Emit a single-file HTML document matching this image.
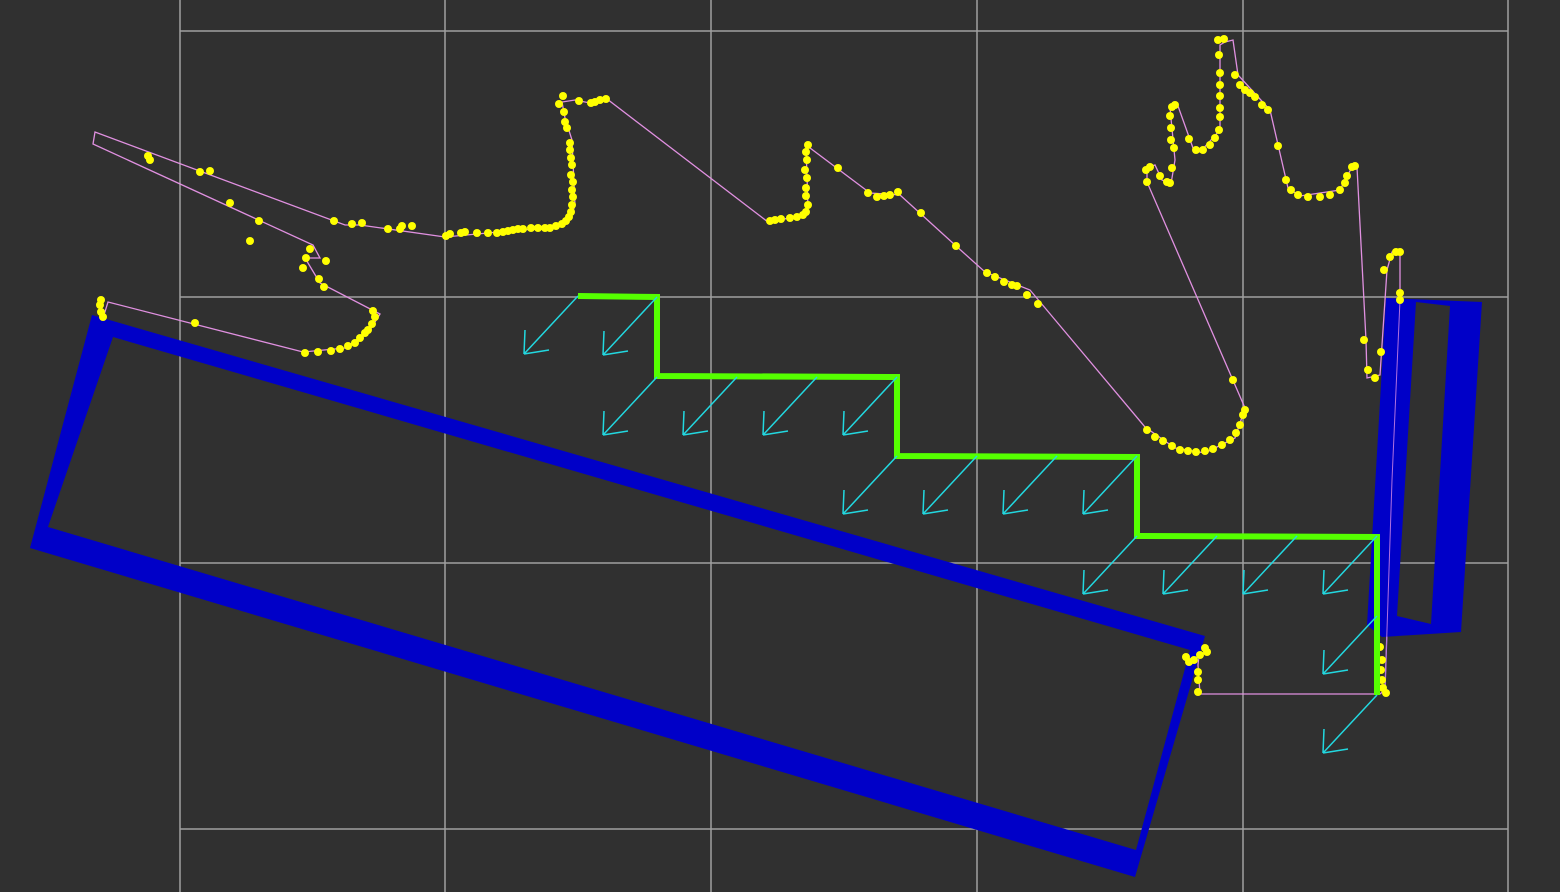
<!DOCTYPE html>
<html><head><meta charset="utf-8"><style>
html,body{margin:0;padding:0;background:#303030;overflow:hidden}
svg{display:block}
</style></head><body>
<svg id="s" width="1560" height="892" viewBox="0 0 1560 892" xmlns="http://www.w3.org/2000/svg">
<rect width="1560" height="892" fill="#303030"/>
<g id="grid"></g>
<polyline id="path" fill="none" stroke="#e090e0" stroke-width="1.3"/>
<path fill="#0000c8" fill-rule="evenodd" d="M92,315 L1205,636 L1135,877 L30,548 Z M113,337 L1190,650 L1136,850 L48,527 Z"/>
<path fill="#0000c8" fill-rule="evenodd" d="M1386,298 L1482,302 L1461,632 L1382,637 L1367,625 Z M1416,302 L1450,306 L1431,624 L1397,616 Z"/>
<polyline id="path2" fill="none" stroke="#b070e0" stroke-width="1" points="1400,300 1392,480 1385,690"/>
<g id="dots"></g>
<polyline id="stairs" fill="none" stroke="#55ff00" stroke-width="6" stroke-linejoin="miter"/>
<g id="arrows"></g>
</svg>
<script>
const gridX=[180,445,711,977,1243,1508];
const gridY=[31,297,563,829];
const pathPts=[[1380,694],[1200,694],[1198,665],[1200,645],[101,326],[103,318],[108,302],[303,352],[345,348],[370,330],[380,314],[320,283],[305,258],[320,258],[313,245],[93,144],[95,132],[345,225],[360,225],[445,237],[520,230],[555,228],[570,220],[575,205],[572,140],[565,118],[562,102],[575,100],[590,103],[607,99],[768,222],[800,216],[808,208],[806,145],[870,193],[900,195],[955,245],[985,272],[1030,290],[1145,427],[1175,448],[1205,453],[1235,438],[1245,408],[1147,182],[1147,168],[1155,165],[1162,180],[1171,184],[1175,160],[1170,108],[1178,106],[1193,148],[1200,152],[1220,130],[1220,45],[1225,42],[1233,40],[1238,75],[1270,110],[1288,188],[1300,196],[1340,190],[1352,167],[1357,167],[1366,340],[1367,378],[1380,375],[1387,270],[1392,252],[1400,250],[1400,300],[1392,480],[1385,690],[1380,694]];
const dotPts=[[148,156],[150,160],[200,172],[210,171],[230,203],[259,221],[250,241],[310,249],[306,258],[326,261],[303,268],[319,279],[324,287],[373,311],[375,317],[372,324],[368,330],[365,333],[360,338],[355,343],[348,346],[340,349],[331,351],[318,352],[305,353],[195,323],[101,300],[100,305],[101,312],[103,317],
[334,221],[352,224],[362,223],[388,229],[400,229],[402,226],[412,226],[446,236],[450,234],[461,233],[465,232],[477,233],[488,233],[497,233],[503,232],[508,231],[513,230],[518,229],[523,229],[531,228],[538,228],[545,228],[550,228],[556,226],[562,224],[566,221],[569,217],[571,212],[572,205],[573,197],[572,190],[573,182],[571,175],[572,165],[571,158],[570,150],[570,143],[567,128],[565,122],[564,112],[559,104],[563,96],[579,101],[591,103],[595,102],[600,100],[606,99],
[770,221],[775,220],[781,219],[790,218],[797,217],[803,215],[806,212],[808,205],[806,196],[806,188],[807,178],[805,170],[807,160],[806,152],[808,145],[838,168],[868,193],[877,197],[884,196],[890,195],[898,192],[921,213],[956,246],[987,273],[995,277],[1004,282],[1012,285],[1017,286],[1027,295],[1038,304],[1147,430],[1155,437],[1163,441],[1172,446],[1180,450],[1188,451],[1196,452],[1205,451],[1213,449],[1222,445],[1230,440],[1236,433],[1240,425],[1243,415],[1245,410],[1233,380],
[1147,182],[1146,170],[1150,167],[1160,176],[1167,182],[1170,183],[1172,168],[1174,148],[1171,140],[1171,128],[1170,116],[1172,107],[1175,105],[1189,139],[1196,150],[1203,150],[1210,145],[1215,138],[1219,130],[1220,117],[1220,108],[1220,96],[1220,85],[1220,73],[1219,55],[1218,40],[1224,39],[1235,75],[1240,85],[1245,90],[1250,93],[1255,97],[1262,105],[1268,110],[1278,146],[1286,180],[1291,190],[1298,195],[1308,197],[1320,197],[1330,195],[1340,190],[1345,183],[1347,176],[1352,167],[1355,166],[1364,340],[1368,370],[1375,378],[1381,352],[1384,270],[1390,257],[1396,252],[1400,252],[1400,293],[1400,300],
[1186,657],[1189,662],[1194,660],[1200,655],[1205,648],[1207,652],[1198,672],[1198,680],[1198,692],[1382,680],[1383,688],[1386,693],[1382,660],[1380,647],[1381,670]];
const stairPts=[[578,296],[657,297],[657,376],[897,377],[897,456],[1137,457],[1137,536],[1377,537],[1377,695]];
const arrowStarts=[[578,296],[657,297],[657,377],[737,377],[817,377],[897,377],[897,456],[977,456],[1057,456],[1137,456],[1137,536],[1217,536],[1297,536],[1377,536],[1377,616],[1377,695]];
const NS='http://www.w3.org/2000/svg';
function mk(t,a,p){const e=document.createElementNS(NS,t);for(const k in a)e.setAttribute(k,a[k]);p.appendChild(e);return e;}
const g=document.getElementById('grid');
gridX.forEach(x=>{const l=mk('line',{x1:x,y1:0,x2:x,y2:892,stroke:'#a0a0a0','stroke-width':1.5},g);

});
gridY.forEach(y=>{const l=mk('line',{x1:180,y1:y,x2:1508,y2:y,stroke:'#a0a0a0','stroke-width':1.5},g);

});
document.getElementById('path').setAttribute('points',pathPts.map(p=>p.join(',')).join(' '));
document.getElementById('stairs').setAttribute('points',stairPts.map(p=>p.join(',')).join(' '));
const d=document.getElementById('dots');
dotPts.forEach(p=>{const c=mk('circle',{cx:p[0],cy:p[1],r:4,fill:'#ffff00'},d);

});
const a=document.getElementById('arrows');
arrowStarts.forEach(p=>{const tx=p[0]-54,ty=p[1]+58;
const e=mk('path',{d:`M${p[0]},${p[1]} L${tx},${ty} M${tx},${ty} L${tx+1},${ty-24} M${tx},${ty} L${tx+25},${ty-4}`,stroke:'#22d8e0','stroke-width':1.5,fill:'none'},a);

});
</script>
</body></html>
